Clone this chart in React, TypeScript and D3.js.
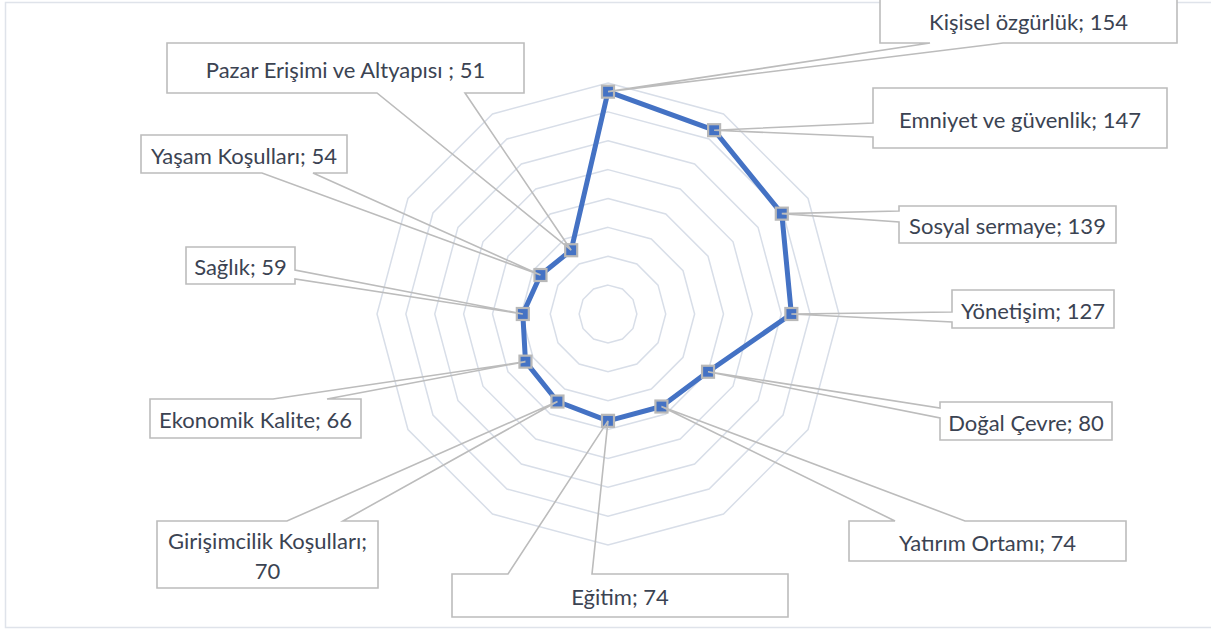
import { useEffect, useRef } from 'react'
import * as d3 from 'd3'

// ── data ─────────────────────────────────────────────────────────────────────
const categories = [
  'Kişisel özgürlük',
  'Emniyet ve güvenlik',
  'Sosyal sermaye',
  'Yönetişim',
  'Doğal Çevre',
  'Yatırım Ortamı',
  'Eğitim',
  'Girişimcilik Koşulları',
  'Ekonomik Kalite',
  'Sağlık',
  'Yaşam Koşulları',
  'Pazar Erişimi ve Altyapısı ',
]
const values = [154, 147, 139, 127, 80, 74, 74, 70, 66, 59, 54, 51]
const gridTicks = [20, 40, 60, 80, 100, 120, 140, 160]

// label lines (split where the original wraps)
const labelLines: string[][] = categories.map((c, i) =>
  c === 'Girişimcilik Koşulları' ? [`${c};`, `${values[i]}`] : [`${c}; ${values[i]}`],
)

// ── layout (hand placed callouts, like the source chart) ─────────────────────
type Side = 'top' | 'right' | 'bottom' | 'left'
interface Box { x0: number; y0: number; x1: number; y1: number; side: Side; a: number; b: number }
const boxes: Box[] = [
  { x0: 880, y0: -3,  x1: 1177, y1: 43,  side: 'bottom', a: 930, b: 1003 },
  { x0: 873, y0: 88,  x1: 1167, y1: 148, side: 'left',   a: 123, b: 137 },
  { x0: 899, y0: 206, x1: 1116, y1: 243, side: 'left',   a: 211, b: 222 },
  { x0: 952, y0: 290, x1: 1114, y1: 328, side: 'left',   a: 312, b: 322 },
  { x0: 940, y0: 402, x1: 1112, y1: 440, side: 'left',   a: 408, b: 418 },
  { x0: 849, y0: 521, x1: 1126, y1: 561, side: 'top',    a: 895, b: 965 },
  { x0: 452, y0: 574, x1: 788,  y1: 617, side: 'top',    a: 508, b: 592 },
  { x0: 157, y0: 521, x1: 378,  y1: 588, side: 'top',    a: 287, b: 343 },
  { x0: 150, y0: 399, x1: 361,  y1: 438, side: 'top',    a: 273, b: 327 },
  { x0: 186, y0: 247, x1: 295,  y1: 284, side: 'right',  a: 270, b: 279 },
  { x0: 141, y0: 135, x1: 347,  y1: 173, side: 'bottom', a: 262, b: 313 },
  { x0: 167, y0: 43,  x1: 524,  y1: 93,  side: 'bottom', a: 377, b: 465 },
]

const W = 1211
const H = 631
const CX = 608
const CY = 314
const R = 231
const C_LINE = '#4472c4'
const C_GRID = '#d8dee8'
const C_CALL = '#bcbcbc'
const C_TEXT = '#3b4352'
const FONT = 'Lato, "Open Sans", sans-serif'

function calloutPath(b: Box, tx: number, ty: number) {
  const p = d3.path()
  const { x0, y0, x1, y1, a, b: bb } = b
  p.moveTo(x0, y0)
  if (b.side === 'top') { p.lineTo(a, y0); p.lineTo(tx, ty); p.lineTo(bb, y0) }
  p.lineTo(x1, y0)
  if (b.side === 'right') { p.lineTo(x1, a); p.lineTo(tx, ty); p.lineTo(x1, bb) }
  p.lineTo(x1, y1)
  if (b.side === 'bottom') { p.lineTo(bb, y1); p.lineTo(tx, ty); p.lineTo(a, y1) }
  p.lineTo(x0, y1)
  if (b.side === 'left') { p.lineTo(x0, bb); p.lineTo(tx, ty); p.lineTo(x0, a) }
  p.closePath()
  return p.toString()
}

export default function App() {
  const ref = useRef<SVGSVGElement>(null)

  useEffect(() => {
    document.body.style.margin = '0'
    if (!ref.current) return
    const svg = d3.select(ref.current)
    svg.selectAll('*').remove()

    const r = d3.scaleLinear().domain([0, 160]).range([0, R])
    const ang = d3.scaleLinear().domain([0, categories.length]).range([0, 2 * Math.PI])
    const px = (i: number, v: number) => CX + r(v) * Math.sin(ang(i))
    const py = (i: number, v: number) => CY - r(v) * Math.cos(ang(i))

    // chart frame
    svg.append('rect')
      .attr('x', 5.5).attr('y', 2.5).attr('width', W + 10).attr('height', 625)
      .attr('fill', '#fff').attr('stroke', '#dfe3ea').attr('stroke-width', 1.5)

    // ── grid rings ─────────────────────────────────────────────────────────
    svg.append('g')
      .selectAll('path')
      .data(gridTicks)
      .join('path')
        .attr('fill', 'none')
        .attr('stroke', C_GRID)
        .attr('stroke-width', 1.5)
        .attr('d', t => d3.line<number>()
          .x((_, i) => px(i, t))
          .y((_, i) => py(i, t))
          .curve(d3.curveLinearClosed)(categories.map(() => t)) ?? '')

    // ── series line ────────────────────────────────────────────────────────
    const series = d3.line<number>()
      .x((v, i) => px(i, v))
      .y((v, i) => py(i, v))
      .curve(d3.curveLinearClosed)
    svg.append('path').datum(values)
      .attr('fill', 'none')
      .attr('stroke', C_LINE)
      .attr('stroke-width', 5)
      .attr('stroke-linejoin', 'round')
      .attr('d', d => series(d) ?? '')

    // ── markers ────────────────────────────────────────────────────────────
    svg.append('g')
      .selectAll('rect')
      .data(values)
      .join('rect')
        .attr('x', (v, i) => px(i, v) - 6)
        .attr('y', (v, i) => py(i, v) - 6)
        .attr('width', 12).attr('height', 12)
        .attr('fill', C_LINE)
        .attr('stroke', '#b8b8b8')
        .attr('stroke-width', 2.2)

    // ── callouts ───────────────────────────────────────────────────────────
    const g = svg.append('g')
    values.forEach((v, i) => {
      const b = boxes[i]
      const tx = px(i, v), ty = py(i, v)
      g.append('rect')
        .attr('x', b.x0).attr('y', b.y0)
        .attr('width', b.x1 - b.x0).attr('height', b.y1 - b.y0)
        .attr('fill', '#fff')
      g.append('path')
        .attr('d', calloutPath(b, tx, ty))
        .attr('fill', 'none')
        .attr('stroke', C_CALL)
        .attr('stroke-width', 1.6)
        .attr('stroke-linejoin', 'miter')
      const lines = labelLines[i]
      const mid = (b.y0 + b.y1) / 2
      const lh = 30
      g.append('text')
        .attr('text-anchor', 'middle')
        .attr('font-family', FONT)
        .attr('font-size', 22)
        .attr('fill', C_TEXT)
        .selectAll('tspan')
        .data(lines)
        .join('tspan')
          .attr('x', (b.x0 + b.x1) / 2)
          .attr('y', (_, k) => mid + 1 + (k - (lines.length - 1) / 2) * lh)
          .attr('dominant-baseline', 'central')
          .text(d => d)
    })
  }, [])

  return (
    <svg ref={ref} width={W} height={H} viewBox={`0 0 ${W} ${H}`}
      style={{ display: 'block', background: '#fff' }} />
  )
}
